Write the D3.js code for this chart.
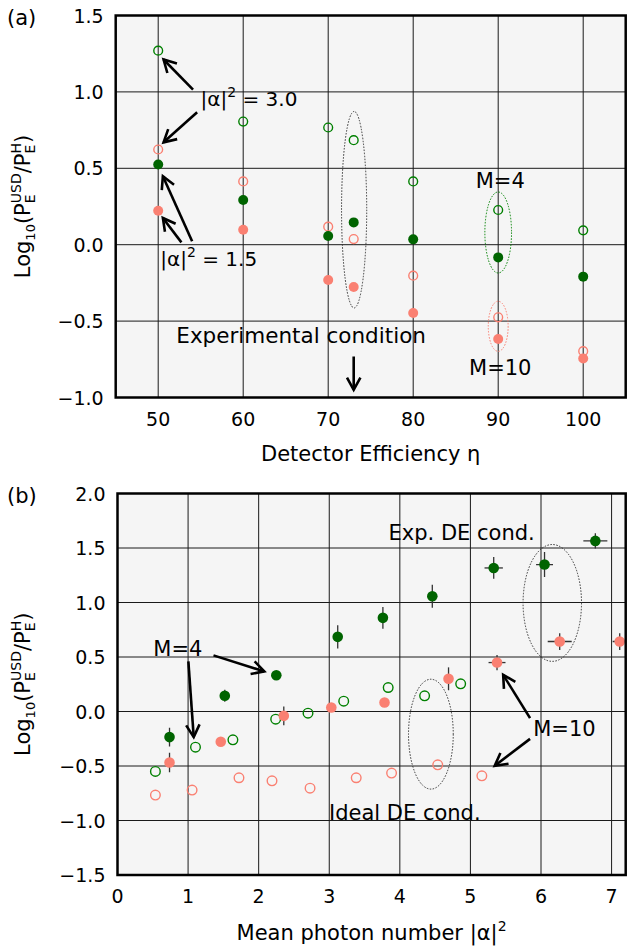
<!DOCTYPE html>
<html>
<head>
<meta charset="utf-8">
<script src="https://cdn.jsdelivr.net/npm/d3@7"></script>
<style>
  body { margin: 0; background: #fff; }
  text { font-family: "DejaVu Sans", sans-serif; fill: #000; }
</style>
</head>
<body>
<svg id="chart" width="627" height="946"></svg>
<script>
// ---- panel (a): detector efficiency ----
const efficiency = [50, 60, 70, 73, 80, 90, 100]
const a_M4_n30 = [1.27, 0.806, 0.767, 0.684, 0.414, 0.227, 0.094]      // green open
const a_M4_n15 = [0.525, 0.292, 0.057, 0.146, 0.035, -0.083, -0.209]   // green filled
const a_M10_n30 = [0.623, 0.414, 0.118, 0.037, -0.203, -0.475, -0.697] // red open
const a_M10_n15 = [0.222, 0.098, -0.231, -0.277, -0.447, -0.617, -0.745] // red filled
const a_xticks = [50, 60, 70, 80, 90, 100]
const a_yticks = [-1.0, -0.5, 0.0, 0.5, 1.0, 1.5]

// ---- panel (b): mean photon number ----
const b_expM4_x = [0.737, 1.52, 2.25, 3.12, 3.76, 4.46, 5.33, 6.05, 6.77]
const b_expM4_y = [-0.235, 0.144, 0.333, 0.685, 0.859, 1.057, 1.317, 1.348, 1.565]
const b_expM4_xerr = [0.03, 0.03, 0.03, 0.03, 0.03, 0.03, 0.13, 0.12, 0.17]
const b_expM4_yerr = [0.085, 0.055, 0.03, 0.107, 0.10, 0.105, 0.10, 0.115, 0.07]
const b_expM10_x = [0.737, 1.463, 2.356, 3.029, 3.783, 4.69, 5.377, 6.265, 7.115]
const b_expM10_y = [-0.468, -0.278, -0.04, 0.037, 0.083, 0.30, 0.449, 0.642, 0.642]
const b_expM10_xerr = [0.03, 0.03, 0.03, 0.03, 0.03, 0.03, 0.12, 0.17, 0.1]
const b_expM10_yerr = [0.09, 0.03, 0.085, 0.03, 0.03, 0.105, 0.07, 0.077, 0.077]
const b_idealM4_x = [0.537, 1.105, 1.635, 2.241, 2.699, 3.205, 3.835, 4.351, 4.862]
const b_idealM4_y = [-0.55, -0.327, -0.26, -0.07, -0.015, 0.095, 0.22, 0.144, 0.254]
const b_idealM10_x = [0.537, 1.057, 1.721, 2.189, 2.728, 3.382, 3.883, 4.537, 5.162]
const b_idealM10_y = [-0.767, -0.721, -0.608, -0.636, -0.703, -0.608, -0.565, -0.489, -0.59]
const b_xticks = [0, 1, 2, 3, 4, 5, 6, 7]
const b_yticks = [-1.5, -1.0, -0.5, 0.0, 0.5, 1.0, 1.5, 2.0]

const GREEN = "#008000", DKGREEN = "#006400", SALMON = "#fa8072"

const svg = d3.select("#chart")
const fmt = d3.format(".1f")

function panel(opts) {
  const x = d3.scaleLinear().domain(opts.xdom).range(opts.xr)
  const y = d3.scaleLinear().domain(opts.ydom).range(opts.yr)
  const g = svg.append("g")

  g.append("rect")
    .attr("x", opts.xr[0]).attr("y", opts.yr[1])
    .attr("width", opts.xr[1] - opts.xr[0]).attr("height", opts.yr[0] - opts.yr[1])
    .attr("fill", "#f5f5f5")

  const clipId = "clip" + opts.id
  svg.append("clipPath").attr("id", clipId).append("rect")
    .attr("x", opts.xr[0]).attr("y", opts.yr[1])
    .attr("width", opts.xr[1] - opts.xr[0]).attr("height", opts.yr[0] - opts.yr[1])

  // grid
  g.selectAll(".vg").data(opts.xticks).join("line")
    .attr("x1", d => x(d)).attr("x2", d => x(d))
    .attr("y1", opts.yr[0]).attr("y2", opts.yr[1])
    .attr("stroke", "#1a1a1a").attr("stroke-width", 1)
  g.selectAll(".hg").data(opts.yticks).join("line")
    .attr("x1", opts.xr[0]).attr("x2", opts.xr[1])
    .attr("y1", d => y(d)).attr("y2", d => y(d))
    .attr("stroke", "#1a1a1a").attr("stroke-width", 1)

  // tick labels
  g.selectAll(".xt").data(opts.xticks).join("text")
    .attr("x", d => x(d)).attr("y", opts.yr[0] + 28)
    .attr("text-anchor", "middle").attr("font-size", 19)
    .text(d => d3.format("d")(d))
  g.selectAll(".yt").data(opts.yticks).join("text")
    .attr("x", opts.xr[0] - 12).attr("y", d => y(d) + 7)
    .attr("text-anchor", "end").attr("font-size", 19)
    .text(d => fmt(d))

  const plot = g.append("g").attr("clip-path", `url(#${clipId})`)

  // frame
  g.append("rect")
    .attr("x", opts.xr[0]).attr("y", opts.yr[1])
    .attr("width", opts.xr[1] - opts.xr[0]).attr("height", opts.yr[0] - opts.yr[1])
    .attr("fill", "none").attr("stroke", "#000").attr("stroke-width", 2.5)

  // x label
  const xl = g.append("text")
    .attr("x", (opts.xr[0] + opts.xr[1]) / 2).attr("y", opts.xlabelY)
    .attr("text-anchor", "middle").attr("font-size", 21)
  opts.xlabel(xl)

  yLabel(g, 30, (opts.yr[0] + opts.yr[1]) / 2)

  g.append("text").attr("x", 7).attr("y", opts.yr[1] + 9)
    .attr("font-size", 21).text(opts.tag)

  return {x, y, plot, g}
}

function yLabel(g, bx, cy) {
  const lg = g.append("g").attr("transform", `translate(${bx},${cy}) rotate(-90)`)
  const t = lg.append("text").attr("text-anchor", "middle").attr("font-size", 21)
  const probe = svg.append("text").attr("font-size", 14).text("E")
  const ew = probe.node().getComputedTextLength()
  probe.remove()
  t.append("tspan").text("Log")
  t.append("tspan").attr("font-size", 13).attr("dy", 5).text("10")
  t.append("tspan").attr("dy", -5).text("(P")
  t.append("tspan").attr("font-size", 14).attr("dy", 5).text("E")
  t.append("tspan").attr("font-size", 14).attr("dx", -ew).attr("dy", -14).text("USD")
  t.append("tspan").attr("dy", 9).text("/P")
  t.append("tspan").attr("font-size", 14).attr("dy", 5).text("E")
  t.append("tspan").attr("font-size", 14).attr("dx", -ew).attr("dy", -14).text("H")
  t.append("tspan").attr("dy", 9).text(")")
}

function alphaText(t, rest) {
  t.append("tspan").text("|α|")
  t.append("tspan").attr("font-size", 14).attr("dy", -9).text("2")
  t.append("tspan").attr("dy", 9).text(rest)
}

function arrow(p, x, y, x0, y0, x1, y1) {
  const ax = x(x0), ay = y(y0), bx = x(x1), by = y(y1)
  const ang = Math.atan2(by - ay, bx - ax)
  const L = 14, w = 0.5
  p.append("line").attr("x1", ax).attr("y1", ay).attr("x2", bx).attr("y2", by)
    .attr("stroke", "#000").attr("stroke-width", 2.6)
  const pts = [
    [bx - L * Math.cos(ang - w), by - L * Math.sin(ang - w)],
    [bx, by],
    [bx - L * Math.cos(ang + w), by - L * Math.sin(ang + w)]
  ]
  p.append("polyline").attr("points", pts.map(d => d.join(",")).join(" "))
    .attr("fill", "none").attr("stroke", "#000").attr("stroke-width", 2.6)
    .attr("stroke-linejoin", "miter")
}

function ellipse(p, x, y, cx, cy, rx, ry, color) {
  p.append("ellipse")
    .attr("cx", x(cx)).attr("cy", y(cy))
    .attr("rx", x(cx + rx) - x(cx)).attr("ry", y(cy) - y(cy + ry))
    .attr("fill", "none").attr("stroke", color).attr("stroke-width", 1)
    .attr("stroke-dasharray", "1.5,1.5")
}

function dots(p, x, y, xs, ys, color, filled, r) {
  p.append("g").selectAll("circle").data(xs).join("circle")
    .attr("cx", d => x(d)).attr("cy", (d, i) => y(ys[i]))
    .attr("r", filled ? r : r - 0.6)
    .attr("fill", filled ? color : "none")
    .attr("stroke", filled ? "none" : color)
    .attr("stroke-width", 1.4)
}

function errbars(p, x, y, xs, ys, xe, ye) {
  const eg = p.append("g").attr("stroke", "#333").attr("stroke-width", 1.3)
  eg.selectAll(".ev").data(xs).join("line")
    .attr("x1", d => x(d)).attr("x2", d => x(d))
    .attr("y1", (d, i) => y(ys[i] - ye[i])).attr("y2", (d, i) => y(ys[i] + ye[i]))
  eg.selectAll(".eh").data(xs).join("line")
    .attr("x1", (d, i) => x(d - xe[i])).attr("x2", (d, i) => x(d + xe[i]))
    .attr("y1", (d, i) => y(ys[i])).attr("y2", (d, i) => y(ys[i]))
}

// ================= panel (a) =================
const A = panel({
  id: "a", tag: "(a)",
  xdom: [45, 105], xr: [115.7, 625.7],
  ydom: [-1.0, 1.5], yr: [397.5, 15.5],
  xticks: a_xticks, yticks: a_yticks,
  xlabelY: 461,
  xlabel: t => t.text("Detector Efficiency η")
})
{
  const {x, y, plot} = A
  dots(plot, x, y, efficiency, a_M4_n30, GREEN, false, 5)
  dots(plot, x, y, efficiency, a_M10_n30, SALMON, false, 5)
  dots(plot, x, y, efficiency, a_M4_n15, DKGREEN, true, 5)
  dots(plot, x, y, efficiency, a_M10_n15, SALMON, true, 5)

  ellipse(plot, x, y, 73.05, 0.229, 1.48, 0.643, "#333")
  ellipse(plot, x, y, 90, 0.08, 1.57, 0.265, GREEN)
  ellipse(plot, x, y, 90, -0.534, 1.17, 0.164, SALMON)

  arrow(plot, x, y, 54.1, 1.015, 50.63, 1.212)
  arrow(plot, x, y, 54.58, 0.867, 50.63, 0.67)
  arrow(plot, x, y, 53.99, 0.022, 50.55, 0.448)
  arrow(plot, x, y, 52.73, 0.015, 50.55, 0.175)
  arrow(plot, x, y, 73.0, -0.731, 73.0, -0.95)

  alphaText(plot.append("text").attr("x", x(54.98)).attr("y", y(0.906)).attr("font-size", 20), " = 3.0")
  alphaText(plot.append("text").attr("x", x(50.24)).attr("y", y(-0.142)).attr("font-size", 20), " = 1.5")
  plot.append("text").attr("x", x(52.13)).attr("y", y(-0.644)).attr("font-size", 21.5)
    .text("Experimental condition")
  plot.append("text").attr("x", x(87.36)).attr("y", y(0.371)).attr("font-size", 21).text("M=4")
  plot.append("text").attr("x", x(86.57)).attr("y", y(-0.852)).attr("font-size", 21).text("M=10")
}

// ================= panel (b) =================
const B = panel({
  id: "b", tag: "(b)",
  xdom: [0, 7.2], xr: [117.5, 625.7],
  ydom: [-1.5, 2.0], yr: [875, 493.5],
  xticks: b_xticks, yticks: b_yticks,
  xlabelY: 940,
  xlabel: t => alphaText(t.text("Mean photon number "), "")
})
{
  const {x, y, plot} = B
  errbars(plot, x, y, b_expM4_x, b_expM4_y, b_expM4_xerr, b_expM4_yerr)
  errbars(plot, x, y, b_expM10_x, b_expM10_y, b_expM10_xerr, b_expM10_yerr)
  dots(plot, x, y, b_idealM4_x, b_idealM4_y, GREEN, false, 5.4)
  dots(plot, x, y, b_idealM10_x, b_idealM10_y, SALMON, false, 5.4)
  dots(plot, x, y, b_expM4_x, b_expM4_y, DKGREEN, true, 5.3)
  dots(plot, x, y, b_expM10_x, b_expM10_y, SALMON, true, 5.3)

  ellipse(plot, x, y, 6.16, 0.996, 0.414, 0.536, "#333")
  ellipse(plot, x, y, 4.44, -0.208, 0.317, 0.504, "#333")

  arrow(plot, x, y, 1.36, 0.515, 2.08, 0.368)
  arrow(plot, x, y, 1.004, 0.46, 1.08, -0.235)
  arrow(plot, x, y, 5.845, -0.061, 5.464, 0.336)
  arrow(plot, x, y, 5.845, -0.251, 5.344, -0.498)

  plot.append("text").attr("x", x(3.84)).attr("y", y(1.574)).attr("font-size", 21).text("Exp. DE cond.")
  plot.append("text").attr("x", x(0.508)).attr("y", y(0.506)).attr("font-size", 21).text("M=4")
  plot.append("text").attr("x", x(5.89)).attr("y", y(-0.229)).attr("font-size", 21).text("M=10")
  plot.append("text").attr("x", x(2.996)).attr("y", y(-0.993)).attr("font-size", 21).text("Ideal DE cond.")
}
</script>
</body>
</html>
